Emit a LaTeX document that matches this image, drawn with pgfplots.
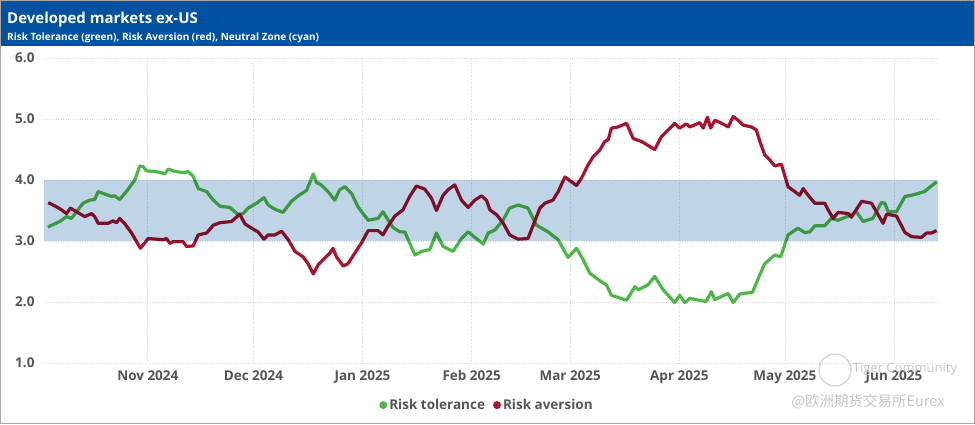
\documentclass[border=0pt]{standalone}
\usepackage{fontspec}
\setmainfont{Open Sans}
\newfontfamily\cjk{Noto Sans CJK SC}
\usepackage{pgfplots}
\pgfplotsset{compat=1.18}

\definecolor{hdr}{RGB}{0,82,160}
\definecolor{band}{RGB}{191,212,230}
\definecolor{tgreen}{RGB}{77,184,72}
\definecolor{tred}{RGB}{168,20,45}
\definecolor{tick}{RGB}{85,85,85}

\begin{document}
\begin{tikzpicture}
\useasboundingbox (0pt,0pt) rectangle (975pt,424pt);
\fill[white] (0pt,0pt) rectangle (975pt,424pt);
\fill[hdr] (0pt,378pt) rectangle (975pt,424pt);
\draw[gray!70, line width=1pt] (0.5pt,0.5pt) rectangle (974.5pt,423.5pt);
\node[anchor=west, text=white, inner sep=0pt, font=\bfseries\fontsize{15}{18}\selectfont] at (7pt,404pt) {Developed markets ex-US};
\node[anchor=west, text=white, inner sep=0pt, font=\bfseries\fontsize{10}{12}\selectfont] at (7pt,386pt) {Risk Tolerance (green), Risk Aversion (red), Neutral Zone (cyan)};

\begin{axis}[
    at={(44pt,61pt)}, anchor=south west,
    scale only axis,
    width=894pt, height=305pt,
    xmin=-29.5, xmax=224.5,
    ymin=1, ymax=6,
    xtick={0,30,61,92,120,151,181,212},
    xticklabels={Nov 2024,Dec 2024,Jan 2025,Feb 2025,Mar 2025,Apr 2025,May 2025,Jun 2025},
    ytick={1,2,3,4,5,6},
    yticklabels={1.0,2.0,3.0,4.0,5.0,6.0},
    major tick length=0pt,
    axis line style={draw=none},
    grid=major,
    grid style={dotted, gray!30, line width=0.8pt},
    ticklabel style={font=\bfseries\fontsize{13.5}{16}\selectfont, text=tick},
    yticklabel style={xshift=-6pt},
    xticklabel style={yshift=-4pt},
    legend style={at={(0.4955,-0.138)}, anchor=center, draw=none, fill=none,
        legend columns=2, font=\bfseries\fontsize{13.5}{16}\selectfont, text=tick,
        /tikz/every even column/.append style={column sep=6pt}},
    legend image code/.code={\fill[draw=none] (4pt,0pt) circle (4pt);},
]

% Risk tolerance
\addplot[color=tgreen, line width=3.2pt, line join=round] coordinates {
(-28.4,3.23) (-25.0,3.32) (-23.1,3.40) (-21.7,3.37) (-20.3,3.48) (-18.4,3.62)
(-16.5,3.67) (-15.1,3.68) (-14.1,3.81) (-12.2,3.77) (-10.3,3.73) (-9.4,3.74)
(-8.0,3.68) (-6.1,3.81) (-3.7,4.00) (-2.3,4.23) (-1.3,4.22) (-0.4,4.15)
(2.0,4.14) (3.9,4.12) (4.8,4.10) (5.8,4.18) (7.7,4.14) (10.5,4.12) (11.4,4.14)
(12.9,4.06) (14.3,3.86) (16.7,3.81) (18.6,3.67) (20.5,3.57) (23.3,3.55)
(25.7,3.43) (27.1,3.45) (28.5,3.54) (30.9,3.62) (33.0,3.71) (34.2,3.59)
(36.1,3.52) (38.4,3.47) (40.8,3.65) (42.7,3.74) (45.1,3.83) (47.0,4.10)
(47.9,3.96) (49.3,3.92) (51.2,3.81) (53.1,3.67) (54.5,3.84) (56.0,3.89)
(57.9,3.78) (59.7,3.56) (62.6,3.34) (65.4,3.37) (66.8,3.48) (68.3,3.34)
(69.7,3.22) (71.6,3.15) (73.0,3.15) (75.9,2.77) (77.8,2.83) (80.1,2.86)
(82.0,3.13) (83.9,2.91) (86.7,2.83) (89.1,3.04) (91.0,3.15) (92.9,3.06)
(95.3,2.95) (96.7,3.13) (98.6,3.18) (100.9,3.34) (102.8,3.54) (105.2,3.59)
(108.0,3.54) (110.4,3.26) (113.7,3.15) (116.6,3.02) (119.4,2.73) (121.8,2.88)
(123.7,2.69) (125.6,2.47) (127.5,2.39) (128.9,2.33) (130.3,2.28) (131.7,2.11)
(136.0,2.03) (138.4,2.25) (139.3,2.20) (142.1,2.28) (144.0,2.42) (146.4,2.20)
(149.7,1.99) (151.1,2.11) (152.6,1.99) (154.0,2.06) (157.3,2.02) (158.7,2.01)
(160.1,2.17) (161.1,2.04) (164.9,2.14) (166.3,1.99) (168.2,2.13) (171.8,2.16)
(173.9,2.45) (175.3,2.63) (178.1,2.77) (179.8,2.74) (181.9,3.10) (184.7,3.21)
(186.6,3.14) (188.1,3.15) (189.5,3.25) (192.3,3.25) (194.2,3.37) (196.1,3.34)
(199.9,3.43) (201.3,3.48) (203.2,3.32) (206.0,3.37) (208.4,3.63) (209.4,3.62)
(210.3,3.48) (212.7,3.48) (215.1,3.73) (217.0,3.75) (220.7,3.81) (221.7,3.86)
(224.1,3.97)
};
\addlegendentry{Risk tolerance}

% Risk aversion
\addplot[color=tred, line width=3.2pt, line join=round] coordinates {
(-28.3,3.63) (-25.9,3.56) (-24.5,3.51) (-23.1,3.45) (-22.0,3.54) (-20.3,3.48)
(-17.9,3.40) (-16.0,3.45) (-15.1,3.40) (-14.1,3.29) (-11.3,3.29) (-9.9,3.33)
(-8.9,3.30) (-8.0,3.37) (-6.5,3.28) (-4.6,3.13) (-3.2,2.99) (-2.1,2.88)
(0.1,3.04) (2.5,3.03) (4.3,3.02) (5.3,3.04) (6.3,2.96) (7.2,2.99) (10.0,2.99)
(11.0,2.91) (12.9,2.92) (14.3,3.10) (16.7,3.13) (18.6,3.26) (20.5,3.30)
(23.8,3.32) (26.1,3.44) (27.6,3.28) (29.5,3.21) (31.3,3.15) (33.0,3.03)
(34.2,3.10) (36.1,3.10) (38.0,3.16) (39.9,3.02) (41.8,2.83) (44.1,2.74)
(45.5,2.63) (47.0,2.46) (48.4,2.61) (50.3,2.72) (51.7,2.80) (52.6,2.88)
(53.6,2.74) (55.5,2.59) (56.9,2.63) (58.8,2.80) (60.7,2.97) (62.6,3.17)
(65.4,3.17) (66.8,3.10) (68.3,3.25) (70.2,3.41) (72.5,3.51) (74.4,3.73)
(76.3,3.90) (78.7,3.85) (80.6,3.70) (82.0,3.50) (83.9,3.75) (85.3,3.84)
(87.2,3.92) (89.1,3.67) (91.0,3.55) (92.9,3.67) (94.8,3.74) (96.2,3.67)
(97.2,3.51) (99.1,3.43) (100.9,3.30) (102.8,3.10) (105.2,3.03) (108.0,3.04)
(109.9,3.32) (111.4,3.54) (112.8,3.62) (115.1,3.67) (116.6,3.81) (118.5,4.05)
(121.8,3.91) (123.2,4.03) (125.1,4.25) (126.5,4.38) (128.4,4.49) (129.8,4.63)
(130.8,4.66) (131.7,4.85) (133.6,4.87) (136.0,4.93) (137.9,4.68) (140.3,4.63)
(144.0,4.50) (145.9,4.71) (147.8,4.82) (149.7,4.93) (151.1,4.85) (153.0,4.92)
(154.0,4.87) (156.8,4.94) (157.8,4.85) (159.0,5.03) (159.9,4.85) (161.1,4.98)
(163.0,4.93) (164.9,4.87) (166.3,5.04) (167.7,4.98) (169.1,4.90) (171.5,4.87)
(172.9,4.82) (173.9,4.63) (175.3,4.41) (176.7,4.33) (178.1,4.23) (180.0,4.26)
(181.9,3.89) (183.8,3.81) (185.2,3.75) (186.2,3.86) (187.6,3.75) (189.5,3.62)
(192.3,3.62) (193.3,3.51) (194.7,3.37) (196.1,3.47) (199.0,3.45) (199.9,3.39)
(200.9,3.48) (202.8,3.65) (205.6,3.62) (207.0,3.48) (208.9,3.29) (209.9,3.44)
(212.7,3.41) (215.1,3.14) (217.0,3.07) (219.8,3.06) (221.2,3.13) (222.6,3.13)
(224.1,3.17)
};
\addlegendentry{Risk aversion}

% Neutral zone, multiplied over the lines
\addplot[fill=band, draw=none, blend mode=multiply, forget plot] coordinates {
(-29.5,3) (224.5,3) (224.5,4) (-29.5,4)} -- cycle;

\end{axis}

% watermark
\draw[gray!35, line width=1.2pt] (835pt,54pt) circle (16pt);
\node[text=gray!45, inner sep=0pt, font=\fontsize{13}{15}\selectfont] at (905pt,55pt) {Tiger Community};
\node[text=gray!45, inner sep=0pt, font=\cjk\fontsize{14.5}{17}\selectfont] at (868pt,22pt) {@欧洲期货交易所Eurex};
\end{tikzpicture}
\end{document}
